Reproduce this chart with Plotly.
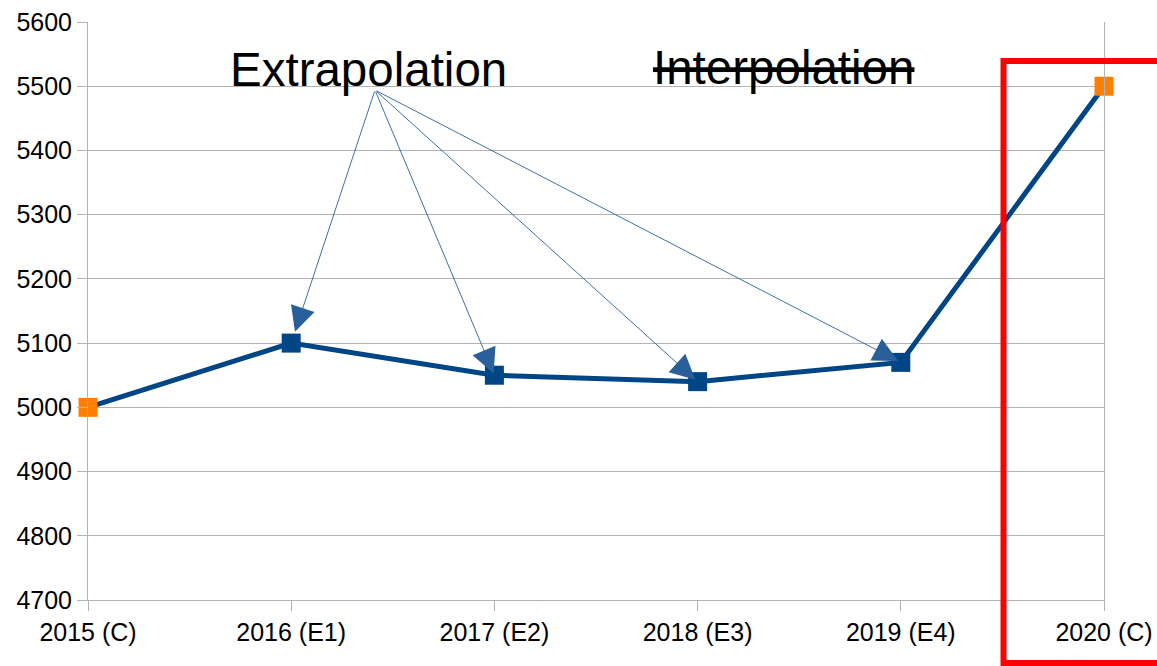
import plotly.graph_objects as go

categories = ["2015 (C)", "2016 (E1)", "2017 (E2)", "2018 (E3)", "2019 (E4)", "2020 (C)"]
values = [5000, 5100, 5050, 5040, 5070, 5500]
marker_colors = ["#ff8000", "#004586", "#004586", "#004586", "#004586", "#ff8000"]
y_ticks = [4700, 4800, 4900, 5000, 5100, 5200, 5300, 5400, 5500, 5600]
arrow_targets = [1, 2, 3, 4]
arrow_standoffs = [12, 2, 3, 3]
arrow_origin = (1.4124, 5494)

x = list(range(len(categories)))
FONT = "Liberation Sans, Arial, sans-serif"

fig = go.Figure()
fig.add_trace(go.Scatter(
    x=x, y=values, mode="lines+markers",
    line=dict(color="#004586", width=5),
    marker=dict(symbol="square", size=19, color=marker_colors),
    showlegend=False, cliponaxis=False,
))

annotations = [
    dict(xref="paper", yref="paper", x=0.2756, y=0.918, text="Extrapolation",
         showarrow=False, font=dict(family=FONT, size=47.5, color="black"),
         xanchor="center", yanchor="middle"),
    dict(xref="paper", yref="paper", x=0.685, y=0.922, text="<s>Interpolation</s>",
         showarrow=False, font=dict(family=FONT, size=47.5, color="black"),
         xanchor="center", yanchor="middle"),
]
for i, so in zip(arrow_targets, arrow_standoffs):
    annotations.append(dict(
        x=x[i], y=values[i], xref="x", yref="y",
        ax=arrow_origin[0], ay=arrow_origin[1], axref="x", ayref="y",
        text="", showarrow=True, arrowhead=2, arrowsize=5.5, arrowwidth=0.9,
        arrowcolor="#2a6099", standoff=so,
    ))

fig.update_layout(
    width=1157, height=666,
    margin=dict(l=88, r=53, t=22, b=66, autoexpand=False),
    paper_bgcolor="white", plot_bgcolor="white",
    font=dict(family=FONT, size=25, color="black"),
    annotations=annotations,
    shapes=[dict(type="rect", xref="paper", yref="paper",
                 x0=0.9011, x1=1.1, y0=-0.109, y1=0.9325,
                 line=dict(color="#ff0000", width=6))],
    xaxis=dict(range=[0, 5], tickmode="array", tickvals=x, ticktext=categories,
               automargin=False,
               showgrid=False, zeroline=False, showline=True, linecolor="#b3b3b3",
               linewidth=1, mirror=False, ticks="outside", ticklen=10,
               tickcolor="#b3b3b3", tickfont=dict(size=25, family=FONT, color="black")),
    yaxis=dict(range=[4700, 5600], tickmode="array", tickvals=y_ticks,
               automargin=False,
               showgrid=True, gridcolor="#b3b3b3", gridwidth=1, zeroline=False,
               showline=True, linecolor="#b3b3b3", linewidth=1, mirror=True,
               ticks="outside", ticklen=10, tickcolor="#b3b3b3",
               tickfont=dict(size=25, family=FONT, color="black")),
)

fig.write_html("out.html", config={"displayModeBar": False},
               post_script="document.body.style.margin='0';document.body.style.padding='0';")
